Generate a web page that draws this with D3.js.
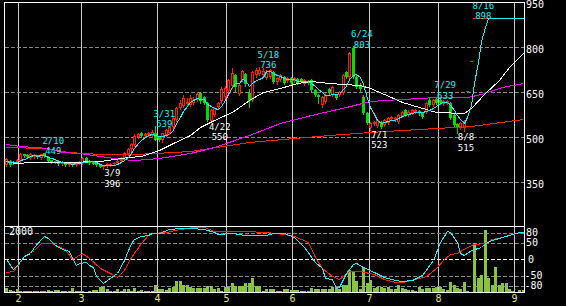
<!DOCTYPE html>
<html>
<head>
<meta charset="utf-8">
<title>chart</title>
<script src="https://cdnjs.cloudflare.com/ajax/libs/d3/7.8.5/d3.min.js"></script>
<style>
  body { margin: 0; background: #000; }
  svg { display: block; }
  text { font-family: "DejaVu Sans Mono", monospace; font-size: 10px; }
  text.mark { font-size: 9px; }
</style>
</head>
<body>
<svg id="chart" width="566" height="306"></svg>
<script>
// daily candles, late Jan -> early Sep (trading days)
var opens = [408,421,418,418,420,444,440,431,435,440, 431,447,434,424,418,421,411,415,408,415,
  408,412,415,430,422,418,415,410,400,404, 408,410,415,420,432,445,460,476,500,516,
  505,508,504,515,500,490,508,514,534,558, 598,604,612,608,614,624,648,634,614,556,
  575,600,620,635,655,670,708,645,690,712, 648,625,708,712,708,698,701,718,684,691,
  701,688,698,688,694,694,678,688,690,658, 641,608,618,661,641,641,641,648,718,701,
  797,701,675,634,581,531,545,538,551,541, 548,561,558,551,571,591,575,581,584,588,
  581,585,624,608,628,626,611,615,614,575, 544,534,531,654,754,898,898,898,898,898,
  898,898,898,898,898,898,898,898,898,898];
var highs = [431,424,420,428,447,446,443,447,443,442, 446,449,437,426,424,423,420,418,418,417,
  418,420,435,433,425,420,418,412,408,413, 415,419,423,433,450,465,482,510,516,519,
  514,517,523,539,503,516,527,538,568,602, 624,640,632,640,635,650,652,638,617,595,
  602,618,668,672,695,730,712,680,724,716, 660,722,730,736,730,725,728,722,702,712,
  706,702,702,702,698,698,696,692,694,662, 645,638,646,665,672,645,655,712,722,786,
  803,712,680,640,585,552,556,562,555,562, 568,572,568,578,588,595,590,595,595,592,
  585,618,632,628,633,630,626,624,618,578, 548,552,558,654,754,898,898,898,898,898,
  898,898,898,898,898,898,898,898,898,898];
var lows = [405,404,412,415,418,436,432,428,432,432, 428,434,418,415,416,409,408,405,405,404,
  405,410,412,418,412,410,405,400,396,401, 405,407,412,418,430,442,456,472,497,500,
  502,505,500,490,487,485,505,512,532,555, 595,602,605,605,612,620,616,612,555,550,
  572,598,615,630,650,665,655,640,686,670, 601,620,702,708,704,694,697,680,678,688,
  678,684,677,685,678,684,675,678,655,638, 615,602,614,644,638,628,638,644,698,698,
  698,664,655,578,544,523,540,535,530,538, 545,558,554,548,568,571,572,578,580,576,
  565,581,604,604,610,610,608,611,560,536, 515,528,520,654,754,898,898,898,898,898,
  898,898,898,898,898,898,898,898,898,898];
var closes = [428,408,415,425,445,438,434,446,440,434, 443,437,421,418,421,411,418,408,415,408,
  415,418,432,420,415,412,408,402,405,410, 412,416,420,430,447,462,478,506,512,503,
  510,514,519,492,490,514,524,534,564,598, 614,631,618,631,624,645,620,614,558,591,
  598,614,660,665,690,715,668,675,720,678, 620,718,724,724,721,715,724,685,698,708,
  681,698,681,698,681,688,691,681,658,641, 634,634,641,648,668,631,651,708,701,781,
  701,668,660,581,548,548,551,558,534,558, 564,568,564,574,584,575,585,591,590,580,
  568,614,608,624,614,614,621,620,564,541, 534,548,554,654,754,898,898,898,898,898,
  898,898,898,898,898,898,898,898,898,898];
var priorCloses = [420,418,425,415];
var volumes = [150,80,50,100,50,50,50,50,50,50, 50,50,70,40,70,70,40,40,50,130,
  40,40,40,30,40,80,80,170,170,100, 40,40,100,60,100,100,40,130,40,70,
  50,50,40,220,120,120,90,150,180,340, 340,220,220,180,130,130,130,130,200,200,
  120,150,50,180,160,280,190,190,190,280, 280,430,200,200,40,120,120,100,40,40,
  120,100,70,70,70,40,40,40,130,120, 120,100,100,100,170,170,120,240,240,670,
  620,350,120,770,300,370,150,180,180,130, 180,100,100,220,150,100,70,80,40,180,
  100,130,130,130,180,180,120,70,320,220, 150,100,320,40,20,1500,450,520,1870,430,
  220,770,220,300,300,120,40,30,80,80];

// moving averages (day index, value)
var ma25Day = [2,8,17,27,35,39,44,48,53,56,60,65,70,74,79,84,88,93,97,102,105,111,114,119,124,132,134,138,142,145,149];
var ma25 = [414,419,419,421,434,439,458,481,508,534,558,584,624,651,664,681,688,681,678,674,664,634,618,601,584,581,598,648,691,734,781];
var ma75Day = [0,4,8,12,16,21,27,33,37,41,46,53,60,70,79,88,98,105,114,124,133,137,143,149];
var ma75 = [478,472,469,463,452,447,438,427,424,429,433,449,469,508,547,574,602,621,627,635,633,644,667,680];
var ma200Day = [0,11,18,27,37,43,53,70,83,93,105,114,124,134,149];
var ma200 = [467,463,452,444,444,447,455,485,497,508,519,524,530,538,561];

// oscillator (lower panel)
var oscFastDay = [0,2,3,5,7,8,10,11,12,14,16,18,19,20,21,23,24,25,26,28,29,31,32,34,36,37,39,41,42,44,
  47,50,53,57,60,61,65,69,75,77,80,83,86,89,91,92,94,95,96,98,100,101,103,106,109,112,114,117,120,123,
  125,127,128,130,131,132,134,137,138,140,143,146,148,149];
var oscFast = [0,-30,-17,10,18,38,60,70,63,43,30,26,3,-17,-12,-7,-17,-22,-50,-70,-62,-47,-40,-2,48,60,70,73,78,80,
  90,93,93,91,81,76,78,73,73,78,78,68,38,-7,-27,-57,-60,-87,-84,-42,-14,-10,-22,-37,-54,-62,-65,-62,-47,-2,
  53,86,83,53,20,13,28,38,50,58,68,75,81,81];
var oscSlowDay = [0,2,4,5,8,10,13,15,17,19,22,24,27,30,32,34,36,39,41,42,46,50,54,57,60,65,69,75,80,83,
  87,89,91,94,96,99,102,106,109,112,114,118,121,124,126,128,130,133,135,138,140,143,146,149];
var oscSlow = [-37,-35,-7,10,28,48,48,40,30,0,18,3,-27,-42,-54,-32,8,48,73,78,83,90,96,96,86,86,85,81,76,70,
  53,8,-27,-50,-60,-34,-34,-44,-60,-68,-68,-60,-50,-27,-2,16,18,38,46,50,60,68,75,81];

var monthStart = [4,22,44,64,83,105,125,147];
var monthLabel = ["2","3","4","5","6","7","8","9"];
var priceTicks = [950,800,650,500,350];
var oscTicks = [80,50,0,-50,-80];

var markDay = [11,43,73,100,124,135,28,59,105,130];
var markDate = ["2/10","3/31","5/18","6/24","7/29","8/16","3/9","4/22","7/1","8/8"];
var markType = ["high","high","high","high","high","high","low","low","low","low"];

var CYAN = "#22eef6", RED = "#ff2200", GREEN = "#00e000", MAG = "#ff00ff";

var svg = d3.select("#chart");
svg.append("rect").attr("width", 566).attr("height", 306).attr("fill", "#000");

var x = d3.scaleLinear().domain([0, 150]).range([4.43, 524.63]);
var y = d3.scaleLinear().domain([950, 350]).range([2.3, 182.3]);
var oy = d3.scaleLinear().domain([100, -100]).range([226, 292.6]);
var vy = d3.scaleLinear().domain([0, 2000]).range([292.6, 226]);
var cx = function(i) { return Math.round(x(i + 0.5)); };

var defs = svg.append("defs");
defs.append("clipPath").attr("id", "clipMain").append("rect")
  .attr("x", 5).attr("y", 3).attr("width", 519).attr("height", 223);
defs.append("clipPath").attr("id", "clipLow").append("rect")
  .attr("x", 5).attr("y", 227).attr("width", 519).attr("height", 65);

// month lines through both panels
svg.append("g").selectAll("line").data(monthStart).join("line")
  .attr("x1", d => Math.round(x(d)) + 0.5).attr("x2", d => Math.round(x(d)) + 0.5)
  .attr("y1", 2).attr("y2", 292.6)
  .attr("stroke", "#c8c8c8").attr("shape-rendering", "crispEdges");

// price grid
svg.append("g").selectAll("line").data(priceTicks.slice(1)).join("line")
  .attr("x1", 5).attr("x2", 524)
  .attr("y1", d => Math.round(y(d)) + 0.5).attr("y2", d => Math.round(y(d)) + 0.5)
  .attr("stroke", "#8a8a8a").attr("stroke-dasharray", "4,2").attr("shape-rendering", "crispEdges");

// oscillator grid
svg.append("g").selectAll("line").data(oscTicks).join("line")
  .attr("x1", 5).attr("x2", 524)
  .attr("y1", d => Math.round(oy(d)) + 0.5).attr("y2", d => Math.round(oy(d)) + 0.5)
  .attr("stroke", d => d === 0 ? "#ffffff" : "#8a8a8a")
  .attr("stroke-dasharray", "4,2").attr("shape-rendering", "crispEdges");

var main = svg.append("g").attr("clip-path", "url(#clipMain)");
var low = svg.append("g").attr("clip-path", "url(#clipLow)");

// volume bars
low.selectAll("rect").data(volumes).join("rect")
  .attr("x", (d, i) => cx(i) - 1).attr("width", 3)
  .attr("y", d => Math.round(vy(d))).attr("height", d => 293 - Math.round(vy(d)))
  .attr("fill", "#88c440").attr("shape-rendering", "crispEdges");

// candles
var days = d3.range(closes.length);
var cg = main.append("g").attr("shape-rendering", "crispEdges");
days.forEach(function(i) {
  var up = closes[i] >= opens[i];
  var col = up ? RED : GREEN;
  var c = cx(i);
  var yt = Math.round(y(Math.max(opens[i], closes[i])));
  var yb = Math.round(y(Math.min(opens[i], closes[i])));
  var hh = Math.max(1, yb - yt);
  if (highs[i] !== lows[i]) {
    cg.append("line").attr("x1", c + 0.5).attr("x2", c + 0.5)
      .attr("y1", Math.round(y(highs[i]))).attr("y2", Math.round(y(lows[i])) + 1)
      .attr("stroke", col);
  }
  if (up && hh >= 3) {
    cg.append("rect").attr("x", c - 0.5).attr("y", yt + 0.5).attr("width", 2).attr("height", hh - 1)
      .attr("fill", "#000").attr("stroke", col);
  } else {
    cg.append("rect").attr("x", c - 1).attr("y", yt).attr("width", 3).attr("height", hh)
      .attr("fill", col);
  }
});

// moving averages
var ma5 = days.map(function(i) {
  var all = priorCloses.concat(closes);
  return d3.mean(all.slice(i, i + 5));
});
var lineDay = d3.line()
  .x(d => Math.round(x(d[0] + 0.5)) + 0.5)
  .y(d => Math.round(y(d[1])) + 0.5);
function drawMa(dayArr, valArr, col) {
  main.append("path").datum(dayArr.map((d, k) => [d, valArr[k]]))
    .attr("d", lineDay).attr("fill", "none").attr("stroke", col)
    .attr("stroke-width", 1).attr("shape-rendering", "crispEdges");
}
drawMa(ma200Day, ma200, RED);
drawMa(ma75Day, ma75, MAG);
drawMa(ma25Day, ma25, "#ffffff");
drawMa(days, ma5, CYAN);

// oscillator lines
var lineOsc = d3.line()
  .x(d => Math.round(x(d[0] + 0.5)) + 0.5)
  .y(d => Math.round(oy(d[1])) + 0.5);
low.append("path").datum(oscSlowDay.map((d, k) => [d, oscSlow[k]]))
  .attr("d", lineOsc).attr("fill", "none").attr("stroke", RED).attr("shape-rendering", "crispEdges");
low.append("path").datum(oscFastDay.map((d, k) => [d, oscFast[k]]))
  .attr("d", lineOsc).attr("fill", "none").attr("stroke", CYAN).attr("shape-rendering", "crispEdges");

// high / low labels
var mg = svg.append("g").attr("text-anchor", "middle");
markDay.forEach(function(d, k) {
  var isHigh = markType[k] === "high";
  var val = isHigh ? highs[d] : lows[d];
  var py = y(val);
  var tx = x(d + 0.5) + 9;
  var col = isHigh ? CYAN : "#ffffff";
  var y1 = isHigh ? py - 9 : py + 7.5;
  var y2 = isHigh ? py + 1.5 : py + 18;
  mg.append("text").attr("class", "mark").attr("x", tx).attr("y", y1).attr("fill", col).text(markDate[k]);
  mg.append("text").attr("class", "mark").attr("x", tx).attr("y", y2).attr("fill", col).text(val);
});

// frames
var fr = svg.append("g").attr("fill", "none").attr("stroke", "#ffffff").attr("shape-rendering", "crispEdges");
fr.append("rect").attr("x", 4.5).attr("y", 2.5).attr("width", 520).attr("height", 290);
fr.append("line").attr("x1", 4.5).attr("x2", 524.5).attr("y1", 226.5).attr("y2", 226.5);

// axis labels
svg.append("g").selectAll("text").data(priceTicks).join("text")
  .attr("x", 526).attr("y", d => y(d) + 6).attr("fill", "#ffffff").text(d => d);
svg.append("g").selectAll("text").data(oscTicks).join("text")
  .attr("x", d => d < 0 ? 524.5 : (d === 0 ? 528 : 526))
  .attr("y", d => oy(d) + 3.5).attr("fill", "#ffffff").text(d => d);
svg.append("g").attr("text-anchor", "middle").selectAll("text").data(monthStart).join("text")
  .attr("x", d => Math.round(x(d)) + 0.5).attr("y", 302).attr("fill", "#e4e48a")
  .text((d, k) => monthLabel[k]);
svg.append("text").attr("x", 9).attr("y", 235).attr("fill", "#ffffff").text("2000");
</script>
</body>
</html>
